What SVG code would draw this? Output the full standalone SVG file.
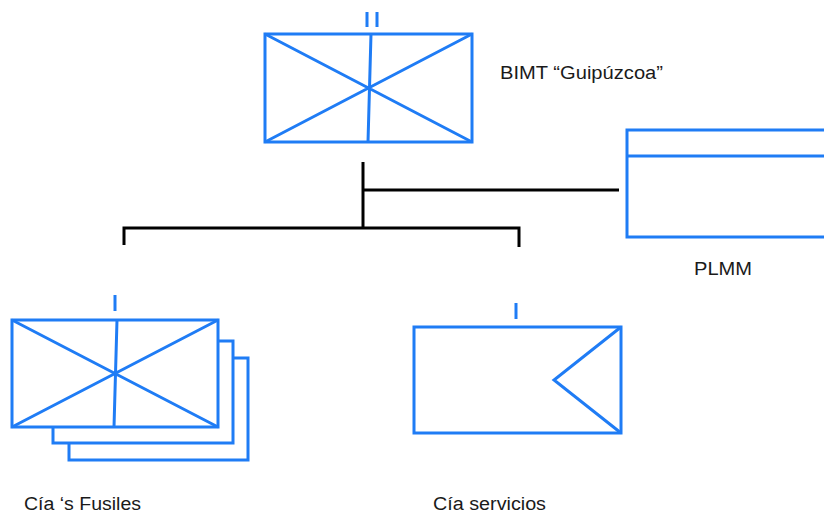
<svg xmlns="http://www.w3.org/2000/svg" width="824" height="514" viewBox="0 0 824 514">
  <style>
    .sym { fill: none; stroke: #1f7cf5; stroke-width: 3; stroke-linejoin: miter; }
    .sym-bg { fill: #ffffff; stroke: #1f7cf5; stroke-width: 3; }
    .link { fill: none; stroke: #000000; stroke-width: 3; }
    .label { font-family: "Liberation Sans", Arial, sans-serif; font-size: 18px; fill: #1a1a1a; }
  </style>
  <rect width="824" height="514" fill="#ffffff"/>

  <!-- connectors -->
  <g id="connectors">
    <path class="link" d="M363,162 V228"/>
    <path class="link" d="M363,190 H619"/>
    <path class="link" d="M124,245 V228 H519 V247"/>
  </g>

  <!-- battalion HQ -->
  <g id="bimt">
    <rect class="sym" x="265" y="34" width="207" height="108"/>
    <path class="sym" d="M265,34 L472,142 M472,34 L265,142 M371,34 L368,142"/>
    <path class="sym" d="M367,12 V27 M377,12 V27"/>
    <text class="label" x="500" y="79" textLength="163" lengthAdjust="spacingAndGlyphs">BIMT “Guipúzcoa”</text>
  </g>

  <!-- platoon -->
  <g id="plmm">
    <rect class="sym" x="627" y="130" width="210" height="107"/>
    <path class="sym" d="M627,156 H826"/>
    <text class="label" x="694" y="275" textLength="58" lengthAdjust="spacingAndGlyphs">PLMM</text>
  </g>

  <!-- rifle companies -->
  <g id="fusiles">
    <rect class="sym-bg" x="69" y="358" width="179" height="102"/>
    <rect class="sym-bg" x="53" y="341" width="180" height="102"/>
    <rect class="sym-bg" x="12" y="320" width="206" height="107"/>
    <path class="sym" d="M12,320 L218,427 M218,320 L12,427 M117,320 L114,427"/>
    <path class="sym" d="M115,295 V311"/>
    <text class="label" x="24" y="510" textLength="117" lengthAdjust="spacingAndGlyphs">Cía ‘s Fusiles</text>
  </g>

  <!-- service company -->
  <g id="servicios">
    <rect class="sym" x="414" y="327" width="207" height="106"/>
    <path class="sym" d="M621,327 L554,380 L621,433"/>
    <path class="sym" d="M516,303 V319"/>
    <text class="label" x="433" y="510" textLength="113" lengthAdjust="spacingAndGlyphs">Cía servicios</text>
  </g>
</svg>
